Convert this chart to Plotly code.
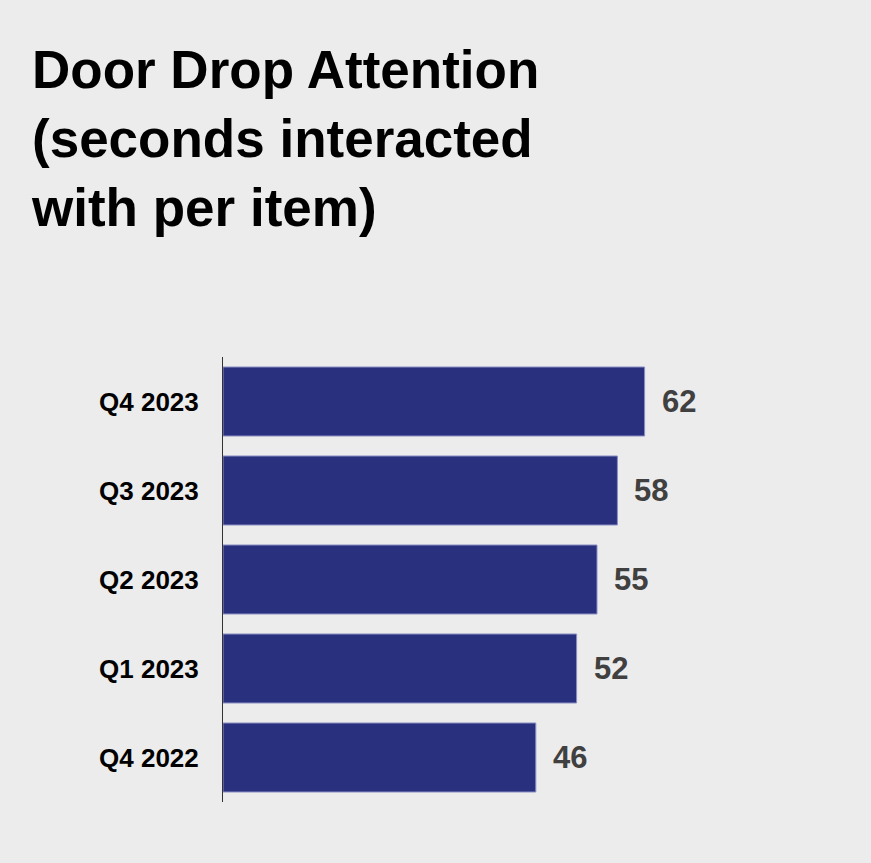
import plotly.graph_objects as go

categories = ["Q4 2022", "Q1 2023", "Q2 2023", "Q3 2023", "Q4 2023"]
values = [46, 52, 55, 58, 62]
title_lines = ["Door Drop Attention", "(seconds interacted", "with per item)"]

W, H = 871, 863
bg = "#ececec"
bar_color = "#29307d"

fig = go.Figure()
fig.add_trace(go.Bar(
    x=values, y=categories, orientation="h",
    marker=dict(color=bar_color, line=dict(color="#8a8fc4", width=1)),
    hoverinfo="x+y",
))
for c, v in zip(categories, values):
    fig.add_annotation(
        x=v, y=c, text=str(v), showarrow=False, xanchor="left", xshift=15,
        font=dict(family="Liberation Sans, Arial, sans-serif", size=31, color="#404040", weight="bold"),
    )

fig.update_layout(
    width=W, height=H,
    paper_bgcolor=bg, plot_bgcolor=bg,
    margin=dict(l=223, r=104, t=357, b=61),
    bargap=0.225,
    showlegend=False,
    title=dict(
        text="<br>".join(title_lines),
        x=32 / W, xanchor="left", xref="container",
        y=1 - 88 / H, yanchor="top", yref="container",
        font=dict(family="Liberation Sans, Arial, sans-serif", size=53, color="#000000", weight="bold"),
    ),
    xaxis=dict(range=[0, 80], showgrid=False, zeroline=False, showticklabels=False, showline=False),
    yaxis=dict(
        showgrid=False, zeroline=False, showline=True, linecolor="#333333", linewidth=1,
        ticks="", ticklabelstandoff=18,
        tickfont=dict(family="Liberation Sans, Arial, sans-serif", size=26, color="#000000", weight="bold"),
    ),
)

fig.write_html("out.html", config={"displayModeBar": False},
               post_script="document.body.style.margin='0';")
